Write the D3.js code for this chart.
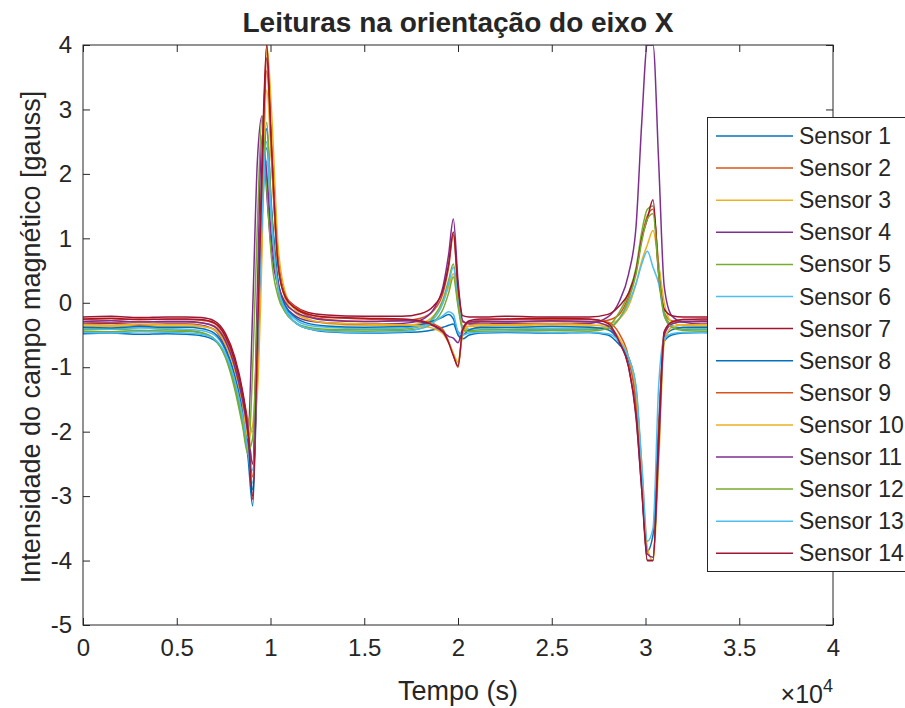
<!DOCTYPE html>
<html>
<head>
<meta charset="utf-8">
<script src="https://cdn.jsdelivr.net/npm/d3@7/dist/d3.min.js"></script>
<style>
  body { margin: 0; background: #fff; }
  text { font-family: "Liberation Sans", Arial, sans-serif; fill: #262626; }
</style>
</head>
<body>
<svg id="chart" width="905" height="708"></svg>
<script>
// tempo (s) das leituras
var tempo = [0, 1500, 3000, 4500, 5500, 6300, 7000, 7600, 8100, 8500,
  8800, 9050, 9300, 9550, 9800, 10050, 10400, 10800, 11300, 12000,
  13000, 15000, 17000, 18000, 18700, 19200, 19500, 19750, 20000, 20250,
  20600, 21200, 22500, 25000, 27000, 28000, 28600, 29100, 29500, 29800,
  30100, 30400, 30700, 31000, 31400, 32000, 33000, 34000];

var sensor1 = [-0.48, -0.47, -0.49, -0.48, -0.49, -0.51, -0.58, -0.82, -1.25, -1.8,
  -2.4, -3.15, -0.9, 1.4, 2.4, 1.4, 0.3, -0.1, -0.3, -0.4,
  -0.45, -0.47, -0.46, -0.45, -0.42, -0.38, -0.35, -0.33, -0.5, -0.56,
  -0.5, -0.47, -0.46, -0.47, -0.46, -0.5, -0.65, -0.85, -1.35, -2.6,
  -3.85, -3.6, -1.9, -0.6, -0.5, -0.47, -0.46, -0.47];
var sensor2 = [-0.3, -0.31, -0.29, -0.3, -0.3, -0.31, -0.36, -0.58, -0.98, -1.5,
  -2.0, -2.7, -1.0, 1.8, 4.0, 2.6, 0.7, 0.1, -0.08, -0.2,
  -0.26, -0.29, -0.28, -0.24, -0.12, 0.15, 0.55, 1.05, 0.2, -0.3,
  -0.32, -0.3, -0.3, -0.29, -0.3, -0.27, -0.18, 0.1, 0.5, 1.0,
  1.35, 1.45, 0.6, -0.15, -0.28, -0.3, -0.29, -0.3];
var sensor3 = [-0.36, -0.37, -0.35, -0.36, -0.36, -0.37, -0.41, -0.6, -0.95, -1.4,
  -1.8, -2.0, -1.4, 0.8, 4.0, 3.0, 0.9, 0.15, -0.1, -0.25,
  -0.32, -0.35, -0.35, -0.32, -0.2, 0.0, 0.25, 0.45, 0.0, -0.36,
  -0.37, -0.36, -0.35, -0.36, -0.36, -0.33, -0.25, -0.05, 0.3, 0.65,
  0.9, 1.12, 0.6, 0.0, -0.3, -0.35, -0.36, -0.36];
var sensor4 = [-0.33, -0.32, -0.34, -0.33, -0.33, -0.35, -0.42, -0.7, -1.15, -1.6,
  -2.0, -0.1, 2.2, 2.9, 1.7, 0.8, 0.25, -0.05, -0.2, -0.28,
  -0.31, -0.33, -0.32, -0.27, -0.1, 0.25, 0.75, 1.3, 0.35, -0.28,
  -0.33, -0.33, -0.32, -0.33, -0.32, -0.22, 0.02, 0.45, 1.2, 2.8,
  4.0, 4.0, 2.2, 0.25, -0.2, -0.3, -0.33, -0.33];
var sensor5 = [-0.42, -0.41, -0.43, -0.42, -0.43, -0.46, -0.56, -0.85, -1.35, -1.9,
  -2.35, -1.0, 1.2, 2.9, 1.8, 0.7, 0.1, -0.15, -0.3, -0.38,
  -0.41, -0.42, -0.41, -0.37, -0.22, 0.05, 0.35, 0.6, 0.05, -0.4,
  -0.43, -0.42, -0.42, -0.41, -0.42, -0.36, -0.15, 0.15, 0.55, 1.1,
  1.45, 1.5, 0.5, -0.15, -0.35, -0.41, -0.42, -0.42];
var sensor6 = [-0.4, -0.41, -0.39, -0.4, -0.41, -0.43, -0.5, -0.75, -1.2, -1.75,
  -2.2, -2.6, -0.6, 1.3, 2.2, 1.3, 0.3, -0.08, -0.25, -0.35,
  -0.38, -0.4, -0.39, -0.36, -0.25, 0.0, 0.3, 0.55, 0.0, -0.38,
  -0.41, -0.4, -0.39, -0.4, -0.4, -0.37, -0.25, 0.0, 0.3, 0.6,
  0.8, 0.55, 0.3, -0.2, -0.36, -0.39, -0.4, -0.4];
var sensor7 = [-0.22, -0.21, -0.23, -0.22, -0.22, -0.23, -0.28, -0.48, -0.85, -1.35,
  -1.95, -3.0, -0.4, 2.2, 4.0, 2.3, 0.6, 0.1, -0.05, -0.15,
  -0.19, -0.21, -0.21, -0.17, -0.05, 0.2, 0.6, 1.1, 0.25, -0.2,
  -0.22, -0.22, -0.21, -0.22, -0.22, -0.18, -0.05, 0.15, 0.5, 1.0,
  1.3, 1.6, 0.45, -0.1, -0.2, -0.22, -0.22, -0.22];
var sensor8 = [-0.38, -0.39, -0.37, -0.38, -0.38, -0.4, -0.47, -0.72, -1.12, -1.65,
  -2.2, -2.9, -0.7, 1.5, 2.7, 1.5, 0.35, -0.05, -0.22, -0.32,
  -0.36, -0.38, -0.37, -0.34, -0.28, -0.22, -0.18, -0.25, -0.45, -0.5,
  -0.42, -0.38, -0.38, -0.37, -0.38, -0.42, -0.6, -0.9, -1.5, -2.7,
  -4.0, -4.0, -2.2, -0.55, -0.42, -0.38, -0.38, -0.38];
var sensor9 = [-0.26, -0.27, -0.25, -0.26, -0.26, -0.27, -0.32, -0.53, -0.92, -1.42,
  -1.95, -2.5, -0.9, 1.7, 3.6, 2.4, 0.65, 0.1, -0.06, -0.17,
  -0.23, -0.25, -0.26, -0.28, -0.33, -0.42, -0.6, -0.8, -1.0, -0.45,
  -0.3, -0.27, -0.26, -0.26, -0.26, -0.3, -0.48, -0.85, -1.6, -2.8,
  -4.0, -4.0, -2.0, -0.45, -0.3, -0.26, -0.27, -0.26];
var sensor10 = [-0.34, -0.35, -0.33, -0.34, -0.34, -0.36, -0.42, -0.65, -1.05, -1.55,
  -2.1, -1.9, -0.5, 1.6, 3.3, 2.2, 0.6, 0.05, -0.15, -0.26,
  -0.31, -0.33, -0.34, -0.36, -0.4, -0.48, -0.62, -0.78, -0.92, -0.5,
  -0.36, -0.34, -0.34, -0.33, -0.34, -0.38, -0.55, -0.85, -1.4, -2.5,
  -3.8, -4.0, -2.5, -0.6, -0.38, -0.34, -0.34, -0.34];
var sensor11 = [-0.29, -0.28, -0.3, -0.29, -0.29, -0.31, -0.37, -0.6, -1.0, -1.5,
  -2.0, -2.5, 0.2, 2.6, 2.0, 1.0, 0.3, 0.0, -0.14, -0.22,
  -0.27, -0.29, -0.28, -0.3, -0.36, -0.45, -0.52, -0.55, -0.62, -0.4,
  -0.3, -0.29, -0.29, -0.28, -0.29, -0.36, -0.62, -1.0, -1.8, -2.9,
  -3.9, -3.95, -2.3, -0.5, -0.33, -0.29, -0.29, -0.29];
var sensor12 = [-0.44, -0.45, -0.43, -0.44, -0.44, -0.47, -0.56, -0.84, -1.3, -1.85,
  -2.3, -2.1, -0.3, 1.6, 2.8, 1.4, 0.2, -0.15, -0.3, -0.4,
  -0.43, -0.44, -0.43, -0.4, -0.3, -0.1, 0.15, 0.4, -0.05, -0.42,
  -0.45, -0.44, -0.44, -0.43, -0.44, -0.4, -0.25, 0.05, 0.45, 0.95,
  1.3, 1.38, 0.45, -0.2, -0.38, -0.43, -0.44, -0.44];
var sensor13 = [-0.46, -0.47, -0.45, -0.46, -0.47, -0.49, -0.56, -0.8, -1.22, -1.75,
  -2.3, -2.8, -0.8, 1.3, 2.5, 1.3, 0.25, -0.12, -0.3, -0.4,
  -0.44, -0.46, -0.45, -0.4, -0.3, -0.2, -0.14, -0.18, -0.45, -0.5,
  -0.47, -0.46, -0.45, -0.46, -0.46, -0.48, -0.6, -0.85, -1.3, -2.5,
  -3.7, -3.5, -1.3, -0.55, -0.48, -0.46, -0.46, -0.46];
var sensor14 = [-0.25, -0.24, -0.26, -0.25, -0.25, -0.26, -0.31, -0.52, -0.9, -1.4,
  -2.0, -3.05, -0.6, 2.0, 3.8, 2.4, 0.6, 0.08, -0.08, -0.18,
  -0.22, -0.24, -0.25, -0.28, -0.35, -0.45, -0.62, -0.82, -0.98, -0.42,
  -0.28, -0.25, -0.25, -0.24, -0.25, -0.32, -0.6, -1.0, -1.75, -2.9,
  -4.0, -4.0, -2.1, -0.45, -0.3, -0.26, -0.25, -0.25];

var leituras = [sensor1, sensor2, sensor3, sensor4, sensor5, sensor6, sensor7,
  sensor8, sensor9, sensor10, sensor11, sensor12, sensor13, sensor14];
var nomes = ['Sensor 1', 'Sensor 2', 'Sensor 3', 'Sensor 4', 'Sensor 5', 'Sensor 6', 'Sensor 7',
  'Sensor 8', 'Sensor 9', 'Sensor 10', 'Sensor 11', 'Sensor 12', 'Sensor 13', 'Sensor 14'];
// cores padrao do matlab
var cores = ['#0072BD', '#D95319', '#EDB120', '#7E2F8E', '#77AC30', '#4DBEEE', '#A2142F'];
var xTicks = [0, 5000, 10000, 15000, 20000, 25000, 30000, 35000, 40000];
var yTicks = [-5, -4, -3, -2, -1, 0, 1, 2, 3, 4];

var margin = { left: 83, right: 833, top: 45, bottom: 625 };
var eixoCor = '#262626';

var svg = d3.select('#chart');

var x = d3.scaleLinear().domain([0, 40000]).range([margin.left, margin.right]);
var y = d3.scaleLinear().domain([-5, 4]).range([margin.bottom, margin.top]);

svg.append('defs').append('clipPath').attr('id', 'area')
  .append('rect')
  .attr('x', margin.left).attr('y', margin.top)
  .attr('width', margin.right - margin.left).attr('height', margin.bottom - margin.top);

var linha = d3.line()
  .x(function(d, i) { return x(tempo[i]); })
  .y(function(d) { return y(d); })
  .curve(d3.curveMonotoneX);

svg.append('g').attr('clip-path', 'url(#area)')
  .selectAll('path')
  .data(leituras)
  .enter().append('path')
  .attr('d', linha)
  .attr('fill', 'none')
  .attr('stroke', function(d, i) { return cores[i % 7]; })
  .attr('stroke-width', 1.5)
  .attr('stroke-linejoin', 'round');

// eixos (com marcas para dentro, estilo box on)
var fmtX = function(d) { return String(d / 10000); };
var fmtY = function(d) { return String(d); };

var eixoX = svg.append('g').attr('transform', 'translate(0,' + margin.bottom + ')')
  .call(d3.axisBottom(x).tickValues(xTicks).tickFormat(fmtX).tickSize(-7).tickPadding(14));
var eixoXTop = svg.append('g').attr('transform', 'translate(0,' + margin.top + ')')
  .call(d3.axisTop(x).tickValues(xTicks).tickFormat('').tickSize(-7));
var eixoY = svg.append('g').attr('transform', 'translate(' + margin.left + ',0)')
  .call(d3.axisLeft(y).tickValues(yTicks).tickFormat(fmtY).tickSize(-7).tickPadding(11));
var eixoYDir = svg.append('g').attr('transform', 'translate(' + margin.right + ',0)')
  .call(d3.axisRight(y).tickValues(yTicks).tickFormat('').tickSize(-7));

[eixoX, eixoXTop, eixoY, eixoYDir].forEach(function(g) {
  g.select('.domain').remove();
  g.selectAll('line').attr('stroke', eixoCor);
  g.selectAll('text').attr('fill', eixoCor).style('font-size', '24px')
    .style('font-family', '"Liberation Sans", Arial, sans-serif');
});

svg.append('rect')
  .attr('x', margin.left).attr('y', margin.top)
  .attr('width', margin.right - margin.left).attr('height', margin.bottom - margin.top)
  .attr('fill', 'none').attr('stroke', eixoCor).attr('stroke-width', 1);

// titulo e rotulos
svg.append('text')
  .attr('x', (margin.left + margin.right) / 2).attr('y', 32)
  .attr('text-anchor', 'middle')
  .style('font-size', '28px').style('font-weight', 'bold')
  .text('Leituras na orientação do eixo X');

svg.append('text')
  .attr('x', (margin.left + margin.right) / 2).attr('y', 700)
  .attr('text-anchor', 'middle')
  .style('font-size', '27px')
  .text('Tempo (s)');

var mult = svg.append('text')
  .attr('x', margin.right).attr('y', 703)
  .attr('text-anchor', 'end')
  .style('font-size', '25px');
mult.append('tspan').text('×10');
mult.append('tspan').attr('dy', -11).style('font-size', '18px').text('4');

svg.append('text')
  .attr('transform', 'translate(40,' + ((margin.top + margin.bottom) / 2 + 2) + ') rotate(-90)')
  .attr('text-anchor', 'middle')
  .style('font-size', '27px')
  .text('Intensidade do campo magnético [gauss]');

// legenda
var leg = svg.append('g');
leg.append('rect')
  .attr('x', 707.5).attr('y', 117.5)
  .attr('width', 230).attr('height', 454)
  .attr('fill', '#fff').attr('stroke', eixoCor).attr('stroke-width', 1);

var itens = leg.selectAll('g.item')
  .data(nomes)
  .enter().append('g')
  .attr('class', 'item')
  .attr('transform', function(d, i) { return 'translate(0,' + (136 + i * 32.1) + ')'; });

itens.append('line')
  .attr('x1', 716).attr('x2', 793)
  .attr('stroke', function(d, i) { return cores[i % 7]; })
  .attr('stroke-width', 1.5);

itens.append('text')
  .attr('x', 799).attr('dy', '0.35em')
  .style('font-size', '23px')
  .text(function(d) { return d; });
</script>
</body>
</html>
